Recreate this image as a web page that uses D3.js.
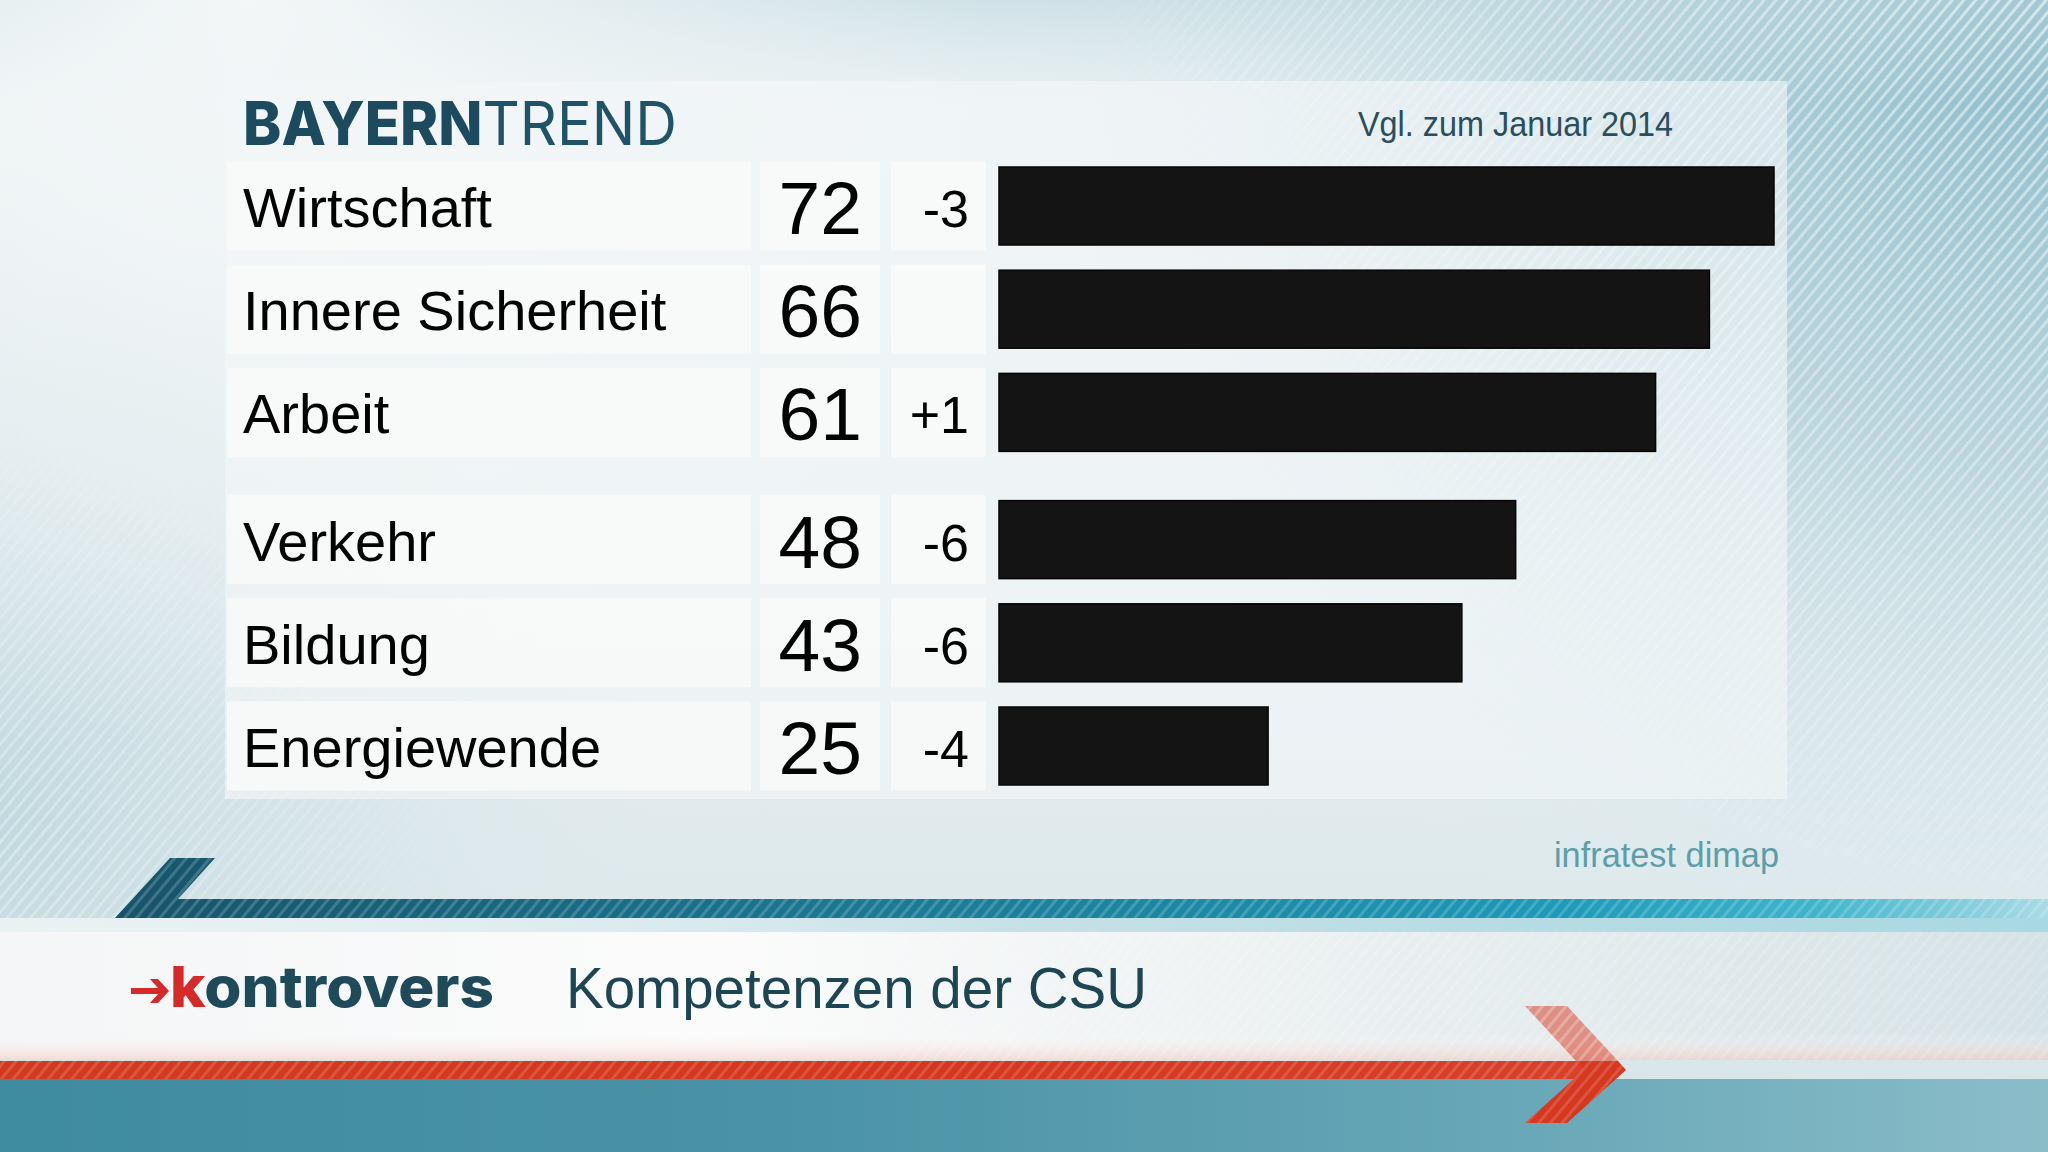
<!DOCTYPE html>
<html><head><meta charset="utf-8">
<script src="https://cdn.jsdelivr.net/npm/d3@7"></script>
<style>html,body{margin:0;padding:0;overflow:hidden;background:#e9f0f2}</style>
</head><body><svg id="c" width="2048" height="1152"></svg>
<script>
// ---- data ----
const categories = ["Wirtschaft", "Innere Sicherheit", "Arbeit", "Verkehr", "Bildung", "Energiewende"];
const values = [72, 66, 61, 48, 43, 25];
const changes = ["-3", "", "+1", "-6", "-6", "-4"];
const groups = [0, 0, 0, 1, 1, 1];
const titleParts = ["BAYERN", "TREND"];
const subtitle = "Vgl. zum Januar 2014";
const source = "infratest dimap";
const footerTitle = "Kompetenzen der CSU";
const logoParts = ["k", "ontrovers"];

// ---- setup ----
const W = 2048, H = 1152;
const svg = d3.select("#c");
const defs = svg.append("defs");

function lg(id, x1, y1, x2, y2, stops) {
  const g = defs.append("linearGradient").attr("id", id)
    .attr("x1", x1).attr("y1", y1).attr("x2", x2).attr("y2", y2);
  stops.forEach(s => g.append("stop").attr("offset", s[0]).attr("stop-color", s[1]).attr("stop-opacity", s[2] == null ? 1 : s[2]));
}
function rg(id, cx, cy, r, stops) {
  const g = defs.append("radialGradient").attr("id", id).attr("gradientUnits", "userSpaceOnUse")
    .attr("cx", cx).attr("cy", cy).attr("r", r);
  stops.forEach(s => g.append("stop").attr("offset", s[0]).attr("stop-color", s[1]).attr("stop-opacity", s[2] == null ? 1 : s[2]));
}

lg("bgBase", "0", "0", "0", "1", [[0, "#e9f1f3"], [0.5, "#e6eef1"], [0.75, "#dfeaed"], [1, "#d6e5e9"]]);
rg("bgTR", 2048, 0, 1050, [[0, "#88b9c8"], [0.45, "#aecfd9", 0.8], [1, "#e6eff1", 0]]);
lg("bgTop", "0", "0", "0", "1", [[0, "#b9d5dd", 0.55], [0.09, "#c9dee4", 0], [1, "#ffffff", 0]]);
rg("bgBL", 0, 820, 650, [[0, "#c0d8df"], [1, "#dce8eb", 0]]);
rg("bgTL", 250, 0, 750, [[0, "#f4f7f8"], [1, "#f3f6f7", 0]]);

const pat = defs.append("pattern").attr("id", "stripes").attr("patternUnits", "userSpaceOnUse")
  .attr("width", 9).attr("height", 9).attr("patternTransform", "rotate(40)");
pat.append("rect").attr("width", 3).attr("height", 9).attr("fill", "#ffffff");

rg("mTR", 2048, 0, 1000, [[0, "#ffffff", 0.55], [0.6, "#ffffff", 0.3], [1, "#ffffff", 0]]);
rg("mBL", 0, 850, 500, [[0, "#ffffff", 0.35], [1, "#ffffff", 0]]);
const mask = defs.append("mask").attr("id", "stripeMask");
mask.append("rect").attr("width", W).attr("height", H).attr("fill", "url(#mTR)");
mask.append("rect").attr("width", W).attr("height", H).attr("fill", "url(#mBL)");

lg("tealBar", "0", "0", "1", "0", [[0, "#16546a"], [0.35, "#1a7590"], [0.75, "#1e9ab8"], [0.88, "#3fb5cc"], [1, "#a9dbe6"]]);
lg("tealUnder", "0", "0", "1", "0", [[0, "#c5dfe5", 0.2], [0.5, "#a9d3de", 0.6], [1, "#9ed6e2", 0.8]]);
lg("whiteBand", "0", "0", "1", "0", [[0, "#f4f6f7"], [0.35, "#fbfbfb"], [0.6, "#eef2f3"], [1, "#d5e2e6"]]);
lg("whiteBandV", "0", "0", "0", "1", [[0, "#ffffff", 0], [0.8, "#ffffff", 0], [1, "#f3c9bf", 0.6]]);
lg("redBar", "0", "0", "1", "0", [[0, "#d23a20"], [0.6, "#d5371e"], [1, "#d8402a"]]);
lg("bottomBand", "0", "0", "1", "0", [[0, "#3f8ba0"], [0.4, "#4b93a7"], [0.75, "#69a8b8"], [1, "#8bbdc9"]]);

// background
svg.append("rect").attr("width", W).attr("height", H).attr("fill", "url(#bgBase)");
svg.append("rect").attr("width", W).attr("height", H).attr("fill", "url(#bgBL)");
svg.append("rect").attr("width", W).attr("height", H).attr("fill", "url(#bgTR)");
svg.append("rect").attr("width", W).attr("height", H).attr("fill", "url(#bgTop)");
svg.append("rect").attr("width", W).attr("height", H).attr("fill", "url(#bgTL)");
svg.append("rect").attr("width", W).attr("height", H).attr("fill", "url(#stripes)").attr("mask", "url(#stripeMask)");

// panel
svg.append("rect").attr("x", 225).attr("y", 81).attr("width", 1562).attr("height", 718)
  .attr("fill", "#f4f7f8").attr("opacity", 0.6);

// title
const tt = svg.append("text").attr("x", 243).attr("y", 145)
  .attr("font-family", "Inter, 'DejaVu Sans', sans-serif").attr("font-size", 60)
  .attr("fill", "#1c4b5f").attr("textLength", 434).attr("lengthAdjust", "spacingAndGlyphs");
tt.append("tspan").attr("font-weight", 800).text(titleParts[0]);
tt.append("tspan").attr("font-weight", 400).attr("fill", "#1f5368").text(titleParts[1]);

svg.append("text").attr("x", 1358).attr("y", 136)
  .attr("font-family", "'Liberation Sans', Arial, sans-serif").attr("font-size", 35)
  .attr("fill", "#2a4e5b").attr("textLength", 315).attr("lengthAdjust", "spacingAndGlyphs")
  .text(subtitle);

// scales
const x = d3.scaleLinear().domain([0, 72]).range([999, 1774]);
const gapUnits = 0.233;
const y = d3.scaleLinear().domain([0, 5 + gapUnits]).range([206, 746]);
const rows = categories.map((c, i) => ({
  cat: c, val: values[i], chg: changes[i], yc: y(i + groups[i] * gapUnits)
}));

const g = svg.append("g");
const row = g.selectAll("g.row").data(rows).join("g").attr("class", "row");
const boxH = 89;
[[227, 524], [760, 120], [891, 95]].forEach(([bx, bw]) => {
  row.append("rect").attr("x", bx).attr("y", d => d.yc - boxH / 2)
    .attr("width", bw).attr("height", boxH).attr("fill", "#f8f9f9").attr("opacity", 0.95);
});
row.append("text").attr("x", 243).attr("y", d => d.yc + 21)
  .attr("font-family", "'Liberation Sans', Arial, sans-serif").attr("font-size", 56)
  .attr("fill", "#000").text(d => d.cat);
row.append("text").attr("x", 862).attr("y", d => d.yc + 28).attr("text-anchor", "end")
  .attr("font-family", "'Liberation Sans', Arial, sans-serif").attr("font-size", 75)
  .attr("fill", "#000").text(d => d.val);
row.append("text").attr("x", 969).attr("y", d => d.yc + 21).attr("text-anchor", "end")
  .attr("font-family", "'Liberation Sans', Arial, sans-serif").attr("font-size", 52)
  .attr("fill", "#000").text(d => d.chg);
row.append("rect").attr("x", x(0)).attr("y", d => d.yc - 39)
  .attr("width", d => x(d.val) - x(0)).attr("height", 78)
  .attr("fill", "#141414").attr("stroke", "#050505").attr("stroke-width", 1.5);

// source
svg.append("text").attr("x", 1779).attr("y", 867).attr("text-anchor", "end")
  .attr("font-family", "'Liberation Sans', Arial, sans-serif").attr("font-size", 35)
  .attr("fill", "#5c9ea9").attr("textLength", 225).attr("lengthAdjust", "spacingAndGlyphs")
  .text(source);

// footer
svg.append("rect").attr("x", 0).attr("y", 918).attr("width", W).attr("height", 142).attr("fill", "url(#whiteBand)");
svg.append("rect").attr("x", 0).attr("y", 918).attr("width", W).attr("height", 142).attr("fill", "url(#whiteBandV)");
svg.append("rect").attr("x", 0).attr("y", 918).attr("width", W).attr("height", 14).attr("fill", "url(#tealUnder)");
svg.append("path").attr("d", "M170,858 L215,858 L178,899 L2048,899 L2048,918 L115,918 Z")
  .attr("fill", "url(#tealBar)");
svg.append("rect").attr("x", 0).attr("y", 1079).attr("width", W).attr("height", 73).attr("fill", "url(#bottomBand)");
svg.append("rect").attr("x", 0).attr("y", 1061).attr("width", 1585).attr("height", 18).attr("fill", "url(#redBar)");
// chevron: upper half faded, lower half solid
svg.append("path").attr("d", "M1525,1006 L1567,1006 L1618,1061 L1576,1061 Z")
  .attr("fill", "#d9442c").attr("opacity", 0.55);
svg.append("path").attr("d", "M1576,1061 L1618,1061 L1626,1070 L1567,1123 L1525,1123 L1584,1070 Z")
  .attr("fill", "#d5371f");
// stripes on the bars
svg.append("path").attr("d", "M170,858 L215,858 L178,899 L2048,899 L2048,918 L115,918 Z")
  .attr("fill", "url(#stripes)").attr("opacity", 0.18);
svg.append("path").attr("d", "M0,1061 L1585,1061 L1585,1079 L0,1079 Z M1525,1006 L1567,1006 L1626,1070 L1567,1123 L1525,1123 L1584,1070 Z")
  .attr("fill", "url(#stripes)").attr("opacity", 0.15);
svg.append("rect").attr("x", 900).attr("y", 932).attr("width", 1148).attr("height", 128).attr("fill", "url(#stripes)").attr("opacity", 0.12);

// logo
const lgG = svg.append("g");
lgG.append("path").attr("d", "M131,988 L158,988 L150,979 L158,979 L169,991 L158,1003 L150,1003 L158,994 L131,994 Z")
  .attr("fill", "#d42a2a");
const logo = lgG.append("text").attr("x", 170).attr("y", 1007)
  .attr("font-family", "Inter, 'DejaVu Sans', sans-serif").attr("font-size", 56).attr("font-weight", 800)
  .attr("textLength", 324).attr("lengthAdjust", "spacingAndGlyphs");
logo.append("tspan").attr("fill", "#d42a2a").text(logoParts[0]);
logo.append("tspan").attr("fill", "#1e4a5a").text(logoParts[1]);

svg.append("text").attr("x", 566).attr("y", 1008)
  .attr("font-family", "'Liberation Sans', Arial, sans-serif").attr("font-size", 58)
  .attr("fill", "#1d4655").attr("textLength", 581).attr("lengthAdjust", "spacingAndGlyphs")
  .text(footerTitle);
</script>
</body></html>
